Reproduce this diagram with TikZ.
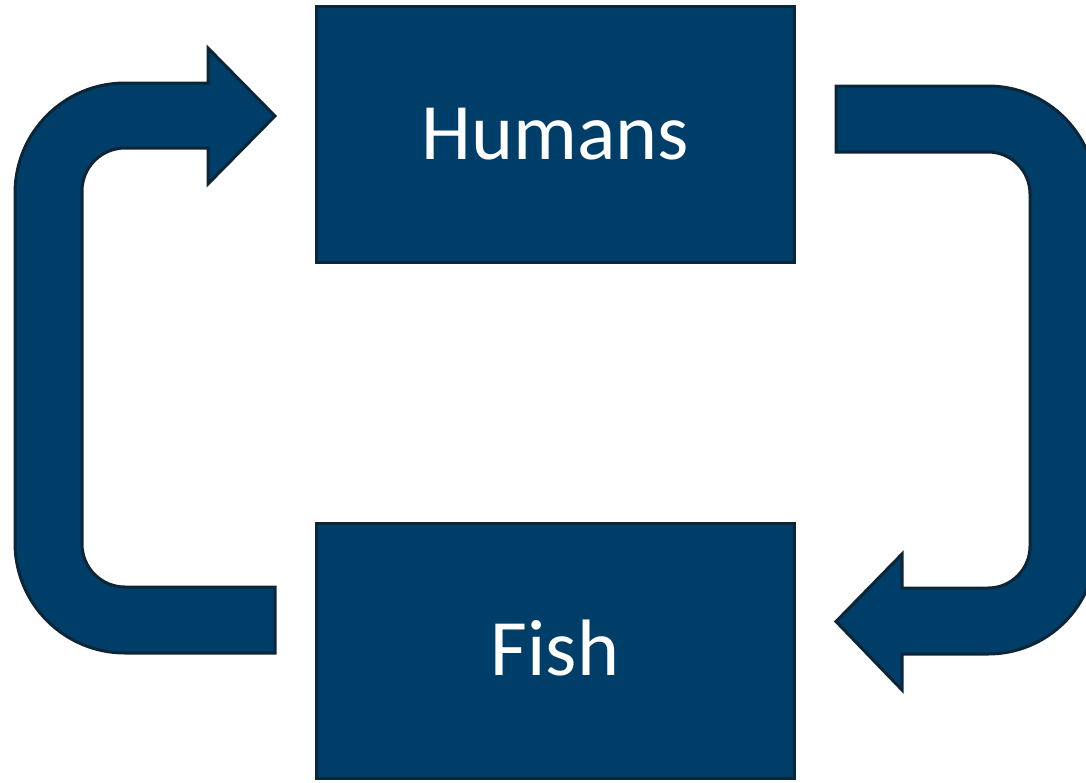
\documentclass[tikz,border=0pt]{standalone}
\usepackage{fontspec}
\setmainfont{Carlito}
\definecolor{boxfill}{RGB}{0,62,106}
\definecolor{boxline}{RGB}{12,38,56}
\begin{document}
\begin{tikzpicture}[x=1pt,y=1pt,
  box/.style={draw=boxline, fill=boxfill, line width=3pt, inner sep=0pt,
    minimum width=478pt, text=white, font=\fontsize{80}{92}\selectfont,
    text height=49pt, text depth=0pt},
  blockarrow/.style={draw=boxline, fill=boxfill, line width=3pt, line join=miter}]
\useasboundingbox (0,0) rectangle (1086,-782);
\clip (0,0) rectangle (1086,-782);
\node[box, minimum height=256pt] (humans) at (555,-134.5) {Humans};
\node[box, minimum height=255pt] (fish) at (555,-651) {Fish};
% left arrow: fish -> humans
\draw[blockarrow] (275,-587) -- (125,-587)
  arc[start angle=270, end angle=180, radius=43pt] -- (82,-191)
  arc[start angle=180, end angle=90, radius=43pt] -- (208,-148) -- (208,-184)
  -- (275,-116) -- (208,-48) -- (208,-83) -- (125,-83)
  arc[start angle=90, end angle=180, radius=110pt] -- (15,-543)
  arc[start angle=180, end angle=270, radius=110pt] -- (275,-653) -- cycle;
% right arrow: humans -> fish
\draw[blockarrow] (836,-86) -- (988,-86)
  arc[start angle=90, end angle=0, radius=108pt] -- (1096,-546)
  arc[start angle=0, end angle=-90, radius=108pt] -- (902,-654) -- (902,-690)
  -- (836,-621.5) -- (902,-554) -- (902,-588) -- (988,-588)
  arc[start angle=-90, end angle=0, radius=42pt] -- (1030,-194)
  arc[start angle=0, end angle=90, radius=42pt] -- (836,-152) -- cycle;
\end{tikzpicture}
\end{document}
